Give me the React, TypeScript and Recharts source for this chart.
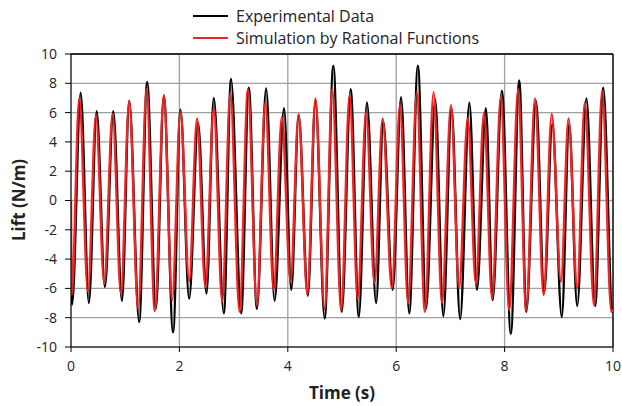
import { LineChart, Line, XAxis, YAxis, CartesianGrid, ReferenceLine } from "recharts";

// [time (s), lift (N/m)]
const experimental: [number, number][] = [
  [0, -5.0], [0.02, -7.1], [0.178, 7.35], [0.33, -7.0], [0.473, 6.1], [0.626, -5.9],
  [0.78, 6.1], [0.94, -6.85], [1.074, 6.8], [1.258, -8.3], [1.405, 8.1], [1.565, -7.4],
  [1.713, 7.1], [1.884, -9.0], [2.02, 6.2], [2.18, -6.7], [2.345, 5.3], [2.5, -6.35],
  [2.634, 7.0], [2.82, -7.7], [2.952, 8.3], [3.14, -7.7], [3.28, 7.7], [3.43, -7.4],
  [3.6, 7.65], [3.757, -6.85], [3.93, 6.3], [4.064, -6.1], [4.2, 5.8], [4.37, -6.5],
  [4.51, 6.8], [4.68, -8.06], [4.84, 9.2], [4.996, -7.6], [5.16, 7.6], [5.31, -7.95],
  [5.46, 6.7], [5.63, -7.0], [5.76, 5.4], [5.935, -6.1], [6.09, 7.05], [6.24, -7.7],
  [6.4, 9.2], [6.55, -7.4], [6.72, 6.9], [6.87, -7.9], [7.02, 6.3], [7.18, -8.1],
  [7.35, 6.67], [7.49, -6.1], [7.655, 6.3], [7.78, -6.8], [7.95, 7.5], [8.115, -9.1],
  [8.27, 8.2], [8.4, -7.6], [8.58, 6.8], [8.73, -6.3], [8.88, 5.2], [9.055, -7.95],
  [9.19, 5.2], [9.34, -7.2], [9.51, 6.97], [9.67, -7.2], [9.82, 7.7], [9.99, -7.6],
  [10, -7.3],
];

const simulation: [number, number][] = [
  [0, 0], [0.013, -6.46], [0.153, 7.0], [0.313, -6.2], [0.46, 5.8], [0.614, -5.66],
  [0.768, 5.9], [0.921, -6.35], [1.074, 6.8], [1.24, -7.4], [1.394, 7.6], [1.547, -7.55],
  [1.713, 7.2], [1.866, -6.8], [2.02, 6.1], [2.18, -5.5], [2.326, 5.6], [2.48, -5.9],
  [2.634, 6.3], [2.79, -6.9], [2.94, 7.35], [3.11, -7.6], [3.265, 7.6], [3.43, -7.15],
  [3.585, 6.67], [3.74, -6.1], [3.89, 5.7], [4.05, -5.55], [4.2, 5.9], [4.36, -6.4],
  [4.51, 6.97], [4.68, -7.4], [4.82, 7.6], [4.985, -7.5], [5.14, 7.2], [5.29, -6.7],
  [5.445, 6.05], [5.6, -5.65], [5.75, 5.6], [5.92, -6.0], [6.07, 6.5], [6.22, -7.0],
  [6.38, 7.4], [6.53, -7.6], [6.69, 7.4], [6.845, -7.0], [7.01, 6.5], [7.16, -6.0],
  [7.32, 5.6], [7.47, -5.65], [7.62, 6.0], [7.77, -6.7], [7.93, 7.05], [8.085, -7.5],
  [8.25, 7.6], [8.4, -7.5], [8.56, 6.97], [8.72, -6.45], [8.87, 5.9], [9.04, -5.55],
  [9.18, 5.6], [9.34, -6.0], [9.48, 6.7], [9.65, -7.15], [9.8, 7.5], [9.97, -7.6],
  [10, -7.4],
];

const xTicks = [0, 2, 4, 6, 8, 10];
const yTicks = [-10, -8, -6, -4, -2, 0, 2, 4, 6, 8, 10];

const expData = experimental.map(([t, v]) => ({ t, v }));
const simData = simulation.map(([t, v]) => ({ t, v }));

const font = "'Open Sans', sans-serif";
const tickStyle = { fontSize: 14, fill: "#222", fontFamily: font };

export default function App() {
  return (
    <div style={{ position: "absolute", left: 0, top: 0, width: 622, height: 406, background: "#fff", fontFamily: font }}>
      <LineChart width={622} height={406} margin={{ top: 54, right: 9, left: 0, bottom: 29 }}>
        <CartesianGrid stroke="#a0a0a0" strokeWidth={1.3} />
        <XAxis
          type="number"
          dataKey="t"
          domain={[0, 10]}
          ticks={xTicks}
          allowDataOverflow
          height={30}
          tickSize={5}
          tickMargin={9}
          stroke="#000"
          tick={tickStyle}
        />
        <YAxis
          type="number"
          domain={[-10, 10]}
          ticks={yTicks}
          allowDataOverflow
          width={71}
          tickSize={6}
          tickMargin={8}
          stroke="#000"
          tick={tickStyle}
        />
        <ReferenceLine y={10} stroke="#000" strokeWidth={1.3} />
        <ReferenceLine x={10} stroke="#000" strokeWidth={1.3} />
        <Line data={expData} dataKey="v" type="monotone" stroke="#000" strokeWidth={2.4} dot={false} isAnimationActive={false} />
        <Line data={simData} dataKey="v" type="monotone" stroke="#f02424" strokeWidth={2.4} dot={false} isAnimationActive={false} />
      </LineChart>

      {/* legend */}
      <div style={{ position: "absolute", left: 193, top: 5, fontSize: 16, color: "#222", lineHeight: "22px" }}>
        <div style={{ display: "flex", alignItems: "center" }}>
          <span style={{ width: 35, height: 2, background: "#000", marginRight: 8 }} />
          Experimental Data
        </div>
        <div style={{ display: "flex", alignItems: "center" }}>
          <span style={{ width: 35, height: 2, background: "#f02424", marginRight: 8 }} />
          Simulation by Rational Functions
        </div>
      </div>

      <div style={{ position: "absolute", left: 0, width: 622, top: 381, paddingLeft: 62, boxSizing: "border-box", textAlign: "center", fontSize: 17, fontWeight: 700, color: "#222" }}>
        Time (s)
      </div>
      <div style={{ position: "absolute", left: 18, top: 200, transform: "translate(-50%, -50%) rotate(-90deg)", whiteSpace: "nowrap", fontSize: 17, fontWeight: 700, color: "#222" }}>
        Lift (N/m)
      </div>
    </div>
  );
}
